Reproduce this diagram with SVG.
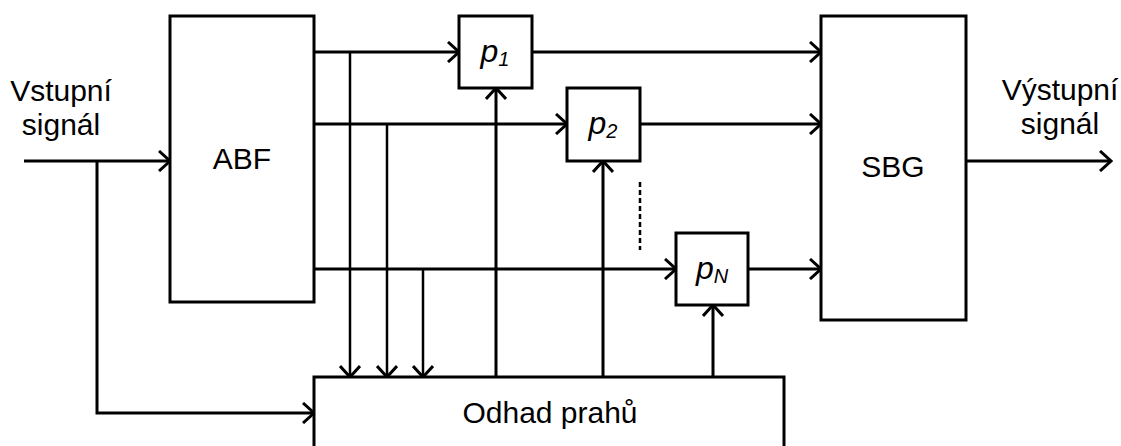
<svg xmlns="http://www.w3.org/2000/svg" width="1121" height="446" viewBox="0 0 1121 446">
<defs>
<marker id="ar" viewBox="-12 -11 14 22" markerWidth="14" markerHeight="22" refX="0" refY="0" orient="auto" markerUnits="userSpaceOnUse">
<path d="M-11,-10 L0,0 L-11,10" fill="none" stroke="#000" stroke-width="3"/>
</marker>
<style>
.box{fill:#fff;stroke:#000;stroke-width:3}
.ln{fill:none;stroke:#000;stroke-width:3}
.th{fill:none;stroke:#000;stroke-width:2.5}
.t{font-family:"Liberation Sans",Arial,sans-serif;font-size:30px;fill:#000;text-anchor:middle}
.it{font-style:italic;font-size:32px}
</style>
</defs>
<rect width="1121" height="446" fill="#fff"/>
<g id="connectors">
<path class="ln" d="M24 161 H170" marker-end="url(#ar)"/>
<path class="ln" d="M97 161 V413 H314" marker-end="url(#ar)"/>
<path class="ln" d="M314 52 H459" marker-end="url(#ar)"/>
<path class="ln" d="M532 52 H821" marker-end="url(#ar)"/>
<path class="ln" d="M314 124 H567" marker-end="url(#ar)"/>
<path class="ln" d="M640 124 H821" marker-end="url(#ar)"/>
<path class="ln" d="M314 269 H676" marker-end="url(#ar)"/>
<path class="ln" d="M748 269 H821" marker-end="url(#ar)"/>
<path class="th" d="M350 52 V377" marker-end="url(#ar)"/>
<path class="th" d="M387 124 V377" marker-end="url(#ar)"/>
<path class="th" d="M423 269 V377" marker-end="url(#ar)"/>
<path class="ln" d="M496 377 V88" marker-end="url(#ar)"/>
<path class="ln" d="M603 377 V161" marker-end="url(#ar)"/>
<path class="ln" d="M713 377 V305" marker-end="url(#ar)"/>
<path class="ln" d="M966 161 H1111" marker-end="url(#ar)"/>
<path d="M640 182 V250" fill="none" stroke="#000" stroke-width="2.5" stroke-dasharray="5 3"/>
</g>
<g id="abf"><rect class="box" x="170" y="16" width="144" height="286"/><text class="t" x="242" y="169">ABF</text></g>
<g id="p1"><rect class="box" x="459" y="16" width="73" height="72"/><text class="t it" x="495" y="62">p<tspan font-size="20" dy="4">1</tspan></text></g>
<g id="p2"><rect class="box" x="567" y="88" width="73" height="73"/><text class="t it" x="603" y="134">p<tspan font-size="20" dy="4">2</tspan></text></g>
<g id="pN"><rect class="box" x="676" y="233" width="72" height="72"/><text class="t it" x="712" y="279">p<tspan font-size="20" dy="4">N</tspan></text></g>
<g id="sbg"><rect class="box" x="821" y="16" width="145" height="304"/><text class="t" x="893" y="177">SBG</text></g>
<g id="odhad"><rect class="box" x="314" y="377" width="470" height="80"/><text class="t" x="550" y="423">Odhad prahů</text></g>
<g id="labels">
<text class="t" x="61" y="101">Vstupní</text>
<text class="t" x="61" y="135">signál</text>
<text class="t" x="1060" y="100">Výstupní</text>
<text class="t" x="1060" y="134">signál</text>
</g>
</svg>
